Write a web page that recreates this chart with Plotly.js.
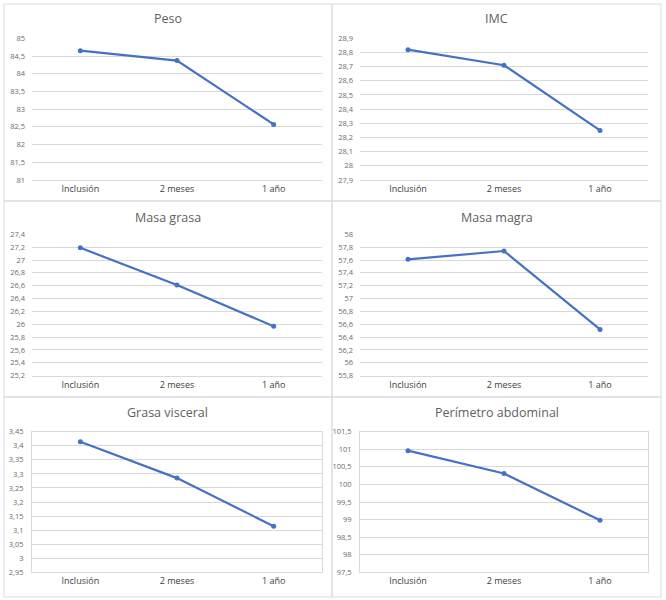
<!DOCTYPE html>
<html>
<head>
<meta charset="utf-8">
<script src="https://cdn.plot.ly/plotly-3.0.1.min.js"></script>
<style>html,body{margin:0;padding:0;background:#fff;}#chart{width:666px;height:600px;}</style>
</head>
<body>
<div id="chart"></div>
<script>
const categories = ['Inclusión', '2 meses', '1 año'];
const peso = [84.65, 84.37, 82.57];
const imc = [28.82, 28.71, 28.25];
const masaGrasa = [27.19, 26.61, 25.97];
const masaMagra = [57.61, 57.74, 56.52];
const grasaVisceral = [3.414, 3.285, 3.114];
const perimetroAbdominal = [100.96, 100.31, 98.98];
const titles = ['Peso', 'IMC', 'Masa grasa', 'Masa magra', 'Grasa visceral', 'Perímetro abdominal'];
const series = [peso, imc, masaGrasa, masaMagra, grasaVisceral, perimetroAbdominal];
const yMin = [81, 27.9, 25.2, 55.8, 2.95, 97.5];
const yMax = [85, 28.9, 27.4, 58, 3.45, 101.5];
const yStep = [0.5, 0.1, 0.2, 0.2, 0.05, 0.5];

const W = 666, H = 600;
const px = x => x / W;
const py = y => 1 - y / H;
const colX = [[32, 322], [360, 648]];
const rowY = [[38.3, 180], [234.3, 375.7], [431.7, 572.3]];
const panelX = [[4, 332], [332, 661]];
const panelY = [[4, 201], [201, 397], [397, 597]];
const titleY = [19, 217, 412];

const BLUE = '#4472C4';
const GRID = '#d9d9d9';
const FONT = '"Open Sans", Lato, sans-serif';

const traces = [];
const layout = {
  width: W, height: H,
  margin: {l: 0, r: 0, t: 0, b: 0},
  paper_bgcolor: '#fff', plot_bgcolor: '#fff',
  showlegend: false,
  separators: ',.',
  font: {family: FONT, color: '#595959'},
  shapes: [], annotations: []
};

for (let i = 0; i < 6; i++) {
  const col = i % 2, row = Math.floor(i / 2);
  const n = i === 0 ? '' : String(i + 1);
  traces.push({
    type: 'scatter', mode: 'lines+markers',
    x: categories, y: series[i],
    xaxis: 'x' + n, yaxis: 'y' + n,
    line: {color: BLUE, width: 2.2},
    marker: {color: BLUE, size: 5},
    hoverinfo: 'x+y'
  });
  const boxed = row === 2;
  layout['xaxis' + n] = {
    domain: [px(colX[col][0]), px(colX[col][1])],
    anchor: 'y' + n,
    type: 'category',
    range: [-0.5, 2.5],
    showgrid: false, zeroline: false,
    showline: true, linecolor: GRID, linewidth: 1, mirror: boxed,
    ticks: '',
    tickfont: {family: FONT, size: 9, color: '#404040'},
    fixedrange: true
  };
  layout['yaxis' + n] = {
    domain: [py(rowY[row][1]), py(rowY[row][0])],
    anchor: 'x' + n,
    range: [yMin[i], yMax[i]],
    tick0: yMin[i], dtick: yStep[i],
    showgrid: true, gridcolor: GRID, gridwidth: 1,
    zeroline: false,
    showline: boxed, linecolor: GRID, linewidth: 1, mirror: boxed,
    ticks: '',
    ticklabelstandoff: 6,
    tickfont: {family: FONT, size: 7.5, color: '#6b6b6b'},
    fixedrange: true
  };
  layout.annotations.push({
    xref: 'paper', yref: 'paper',
    x: px((panelX[col][0] + panelX[col][1]) / 2), y: py(titleY[row]),
    xanchor: 'center', yanchor: 'middle',
    text: titles[i], showarrow: false,
    font: {family: FONT, size: 12.5, color: '#5f5f5f'}
  });
  layout.shapes.push({
    type: 'rect', xref: 'paper', yref: 'paper',
    x0: px(panelX[col][0]), x1: px(panelX[col][1]),
    y0: py(panelY[row][1]), y1: py(panelY[row][0]),
    line: {color: '#d6dce5', width: 1}
  });
}

Plotly.newPlot('chart', traces, layout, {staticPlot: true, displayModeBar: false});
</script>
</body>
</html>
